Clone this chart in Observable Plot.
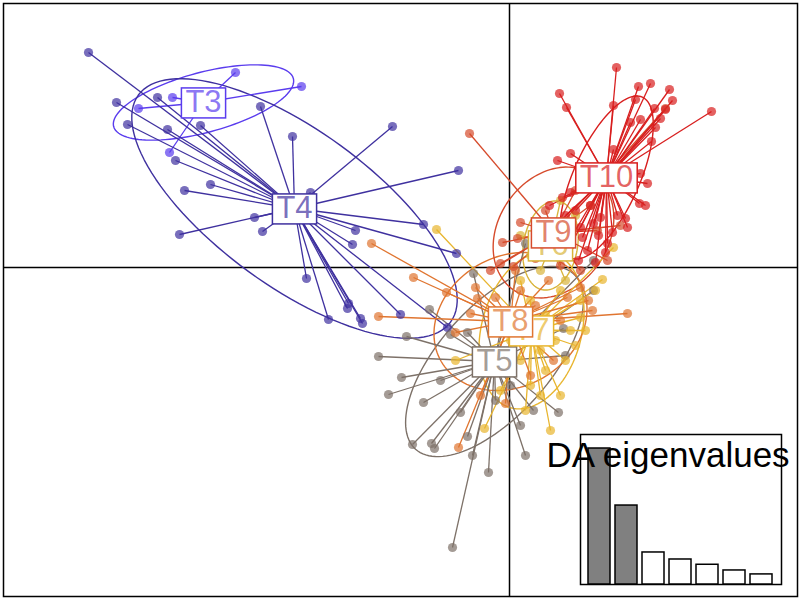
<!DOCTYPE html>
<html>
<head>
<meta charset="utf-8">
<script src="https://cdn.jsdelivr.net/npm/d3@7"></script>
<script src="https://cdn.jsdelivr.net/npm/@observablehq/plot@0.6"></script>
<style>
  html, body { margin: 0; padding: 0; background: white; }
  #wrap { position: relative; width: 800px; height: 599px; font-family: "Liberation Sans", Arial, Helvetica, sans-serif; }
  #inset { position: absolute; left: 540px; top: 425px; }
</style>
</head>
<body>
<div id="wrap"><div id="main"></div><div id="inset"></div></div>
<script>
// ---- groups ----
const groups = ["T3", "T4", "T5", "T6", "T7", "T8", "T9", "T10"];
const colors = ["#5a3cee", "#3f319f", "#7d7168", "#d8b43a", "#e8b52e", "#e07530", "#d64b2c", "#d81e1e"];

// group centroids (LD1, LD2)
const centroidX = [-30.6, -21.5, -1.5, 4.1, 2.2, 0.1, 4.4, 9.7];
const centroidY = [16.5, 5.9, -9.4, 2.2, -6.3, -5.4, 3.5, 9.0];

// inertia ellipses: semi-axes and angle (degrees)
const ellipseA = [9.3, 19.3, 11.8, 4.5, 8.0, 8.0, 7.0, 8.8];
const ellipseB = [3.0, 7.8, 5.5, 2.7, 5.0, 6.5, 5.5, 3.3];
const ellipseAngle = [15, -36, 48, 80, 75, 30, 55, 66];

// individual scores (LD1, LD2)
const pointsT3 = [[-33.7,17.0],[-37.1,15.9],[-27.4,19.5],[-20.8,18.1],[-34.0,11.5]];
const pointsT4 = [[-42.1,21.5],[-39.3,16.5],[-35.2,17.0],[-38.2,14.3],[-34.2,13.8],[-30.9,14.2],[-24.9,16.1],[-21.7,13.1],[-11.7,14.1],[-5.1,9.7],[-33.4,10.7],[-29.9,8.3],[-32.5,7.7],[-33.0,3.3],[-25.5,5.0],[-24.7,3.6],[-19.9,7.5],[-15.4,3.7],[-15.7,2.3],[-8.6,4.3],[-5.3,1.4],[-20.3,-1.1],[-18.1,-5.2],[-16.2,-4.1],[-16.1,-3.6],[-14.9,-5.1],[-14.7,-5.6],[-10.9,-4.7],[-6.2,-6.0]];
const pointsT5 = [[-13.1,-8.9],[-10.8,-11.0],[-12.1,-12.7],[-3.6,-0.6],[-8.0,-4.2],[-5.9,-6.7],[-10.3,-6.9],[-6.9,-11.3],[-4.2,-6.5],[-8.6,-13.5],[-4.9,-14.5],[-9.7,-17.7],[-7.8,-17.6],[-7.5,-18.1],[-4.2,-16.9],[-3.7,-18.8],[-2.1,-20.5],[-5.7,-28.0],[1.6,-18.8],[1.1,-15.8],[2.4,-14.3],[4.9,-14.5],[5.6,-8.8],[8.4,-2.3],[8.4,0.7],[1.6,2.4],[5.4,-6.1],[-0.9,-6.3],[0.1,-11.8],[-1.4,-13.3]];
const pointsT6 = [[5.1,6.7],[6.6,5.2],[3.1,-0.3],[2.1,1.2],[5.6,-1.3],[1.1,3.2],[4.6,1.7]];
const pointsT7 = [[-7.3,3.8],[-2.5,-16.1],[4.1,-16.3],[9.3,-1.2],[7.1,-3.3],[7.1,-5.0],[-5.4,-9.3],[10.4,2.0],[8.6,-2.3],[3.1,-8.3],[4.6,-7.3],[5.6,-9.3],[3.6,-10.3],[2.1,-11.8],[5.1,-12.8],[1.1,-9.3],[6.6,-7.8],[3.6,-4.8],[2.1,-3.3],[0.1,-7.3],[6.1,-6.3],[-0.9,-12.3],[7.6,-6.3],[1.6,-14.3],[3.1,-12.8],[5.1,-2.3],[1.1,-1.3]];
const pointsT8 = [[-13.8,2.4],[-9.6,-1.0],[-6.3,-2.5],[-13.1,-4.9],[-3.9,-4.6],[-3.2,-3.1],[-1.4,-3.0],[11.8,-4.6],[-5.1,-18.0],[-2.9,-12.8],[-0.4,-13.6],[5.8,-3.0],[7.9,-3.3],[8.3,-4.3],[7.1,-2.0],[-5.4,-6.5],[-3.4,-2.0],[4.4,-9.3],[1.1,-2.3],[2.6,-3.8],[3.6,-6.3],[0.1,-8.3],[-1.9,-10.3],[2.1,-10.8],[5.1,-5.3],[0.6,-0.3],[3.9,-1.3]];
const pointsT9 = [[-4.0,13.4],[1.1,4.5],[0.8,2.9],[-0.7,2.5],[-0.9,0.4],[-1.9,-0.3],[0.4,0.1],[2.6,0.9],[5.1,0.2],[7.1,-0.3],[9.8,0.7],[8.8,3.7],[8.1,6.2],[6.6,7.7],[15.6,15.9],[11.1,4.2],[3.6,5.7],[5.1,2.7]];
const pointsT10 = [[10.7,20.0],[12.9,18.1],[14.1,18.4],[16.0,17.8],[20.2,15.6],[5.0,17.4],[5.7,16.0],[10.4,16.2],[12.6,16.8],[14.5,15.9],[15.6,15.8],[13.1,14.8],[12.1,14.5],[14.6,14.0],[14.2,12.6],[10.4,11.8],[6.1,11.4],[4.8,10.7],[13.1,9.4],[13.8,8.4],[13.0,6.4],[13.6,6.2],[6.1,7.5],[5.3,7.0],[4.0,6.2],[10.8,5.2],[11.8,4.0],[9.1,5.0],[8.4,4.4],[7.1,4.0],[9.8,2.4],[9.6,1.5],[7.8,1.7],[7.3,3.0],[6.6,5.7],[8.1,6.2],[5.6,5.2],[4.6,4.2],[8.9,3.2],[10.3,3.5],[6.1,2.2],[5.1,1.2],[6.9,0.7],[8.6,0.5],[11.6,4.9],[15.1,14.9],[16.3,16.7]];
const groupPoints = [pointsT3, pointsT4, pointsT5, pointsT6, pointsT7, pointsT8, pointsT9, pointsT10];

// DA eigenvalues
const eigenIndex = [1, 2, 3, 4, 5, 6, 7];
const eigenValues = [310, 180, 73, 57, 45, 32, 23];
const retainedDA = 2;

// ---- derived tables ----
const centroids = groups.map((g, i) => ({g, x: centroidX[i], y: centroidY[i]}));
const individuals = groups.flatMap((g, i) =>
  groupPoints[i].map(([x, y]) => ({g, x, y, cx: centroidX[i], cy: centroidY[i]})));
const ellipses = groups.flatMap((g, i) => {
  const a = ellipseA[i], b = ellipseB[i], th = ellipseAngle[i] * Math.PI / 180;
  return d3.range(0, 361, 3).map(t => {
    const u = t * Math.PI / 180;
    const ex = a * Math.cos(u), ey = b * Math.sin(u);
    return {g, x: centroidX[i] + ex * Math.cos(th) - ey * Math.sin(th),
               y: centroidY[i] + ex * Math.sin(th) + ey * Math.cos(th)};
  });
});

const colorScale = {domain: groups, range: colors};
const fontFamily = '"Liberation Sans", Arial, Helvetica, sans-serif';

const main = Plot.plot({
  width: 800, height: 599,
  marginLeft: 3, marginRight: 3, marginTop: 3, marginBottom: 3,
  x: {domain: [-50.6, 28.8], axis: null},
  y: {domain: [-32.9, 26.4], axis: null},
  color: colorScale,
  style: {fontFamily, background: "white"},
  marks: [
    Plot.ruleX([0], {stroke: "black", strokeWidth: 1.5}),
    Plot.ruleY([0], {stroke: "black", strokeWidth: 1.5}),
    Plot.line(ellipses, {x: "x", y: "y", z: "g", stroke: "g", strokeWidth: 1.4}),
    Plot.link(individuals, {x1: "cx", y1: "cy", x2: "x", y2: "y", stroke: "g", strokeWidth: 1.3}),
    Plot.dot(individuals, {x: "x", y: "y", r: 4.6, fill: "g", fillOpacity: 0.7, stroke: "none"}),
    Plot.text(centroids, {x: "x", y: "y", text: "g", fill: "g", fillOpacity: 0.7, fontSize: 31}),
    Plot.frame({stroke: "black", strokeWidth: 1.5})
  ]
});
document.getElementById("main").appendChild(main);

// white boxes behind each group label (drawn just before its own text)
main.querySelectorAll('g[aria-label="text"] text').forEach(t => {
  const bb = t.getBBox();
  const idx = groups.indexOf(t.textContent);
  const cyy = bb.y + bb.height / 2 + 1;
  const r = document.createElementNS("http://www.w3.org/2000/svg", "rect");
  r.setAttribute("x", bb.x - 4);
  r.setAttribute("width", bb.width + 8);
  r.setAttribute("y", cyy - 15);
  r.setAttribute("height", 30);
  const tr = t.getAttribute("transform");
  if (tr) r.setAttribute("transform", tr);
  r.setAttribute("fill", "white");
  r.setAttribute("fill-opacity", 1);
  r.setAttribute("stroke", colors[idx]);
  r.setAttribute("stroke-opacity", 1);
  r.setAttribute("stroke-width", 1.5);
  t.parentNode.insertBefore(r, t);
});

const eig = eigenIndex.map((k, i) => ({k, v: eigenValues[i], kept: i < retainedDA}));
const inset = Plot.plot({
  width: 260, height: 165,
  marginLeft: 40, marginRight: 19, marginTop: 9, marginBottom: 6,
  x: {domain: eigenIndex, paddingInner: 0.17, paddingOuter: 0.3, axis: null},
  y: {domain: [0, d3.max(eigenValues) * 1.103], axis: null},
  style: {fontFamily, background: "transparent", overflow: "visible"},
  marks: [
    Plot.frame({fill: "white", stroke: "black", strokeWidth: 1.5}),
    Plot.barY(eig, {x: "k", y: "v", fill: d => d.kept ? "#808080" : "white", stroke: "black", strokeWidth: 1.5}),
    Plot.text(["DA eigenvalues"], {frameAnchor: "top", text: d => d, fontSize: 35, fill: "black", dy: 8, dx: -13})
  ]
});
document.getElementById("inset").appendChild(inset);
</script>
</body>
</html>
